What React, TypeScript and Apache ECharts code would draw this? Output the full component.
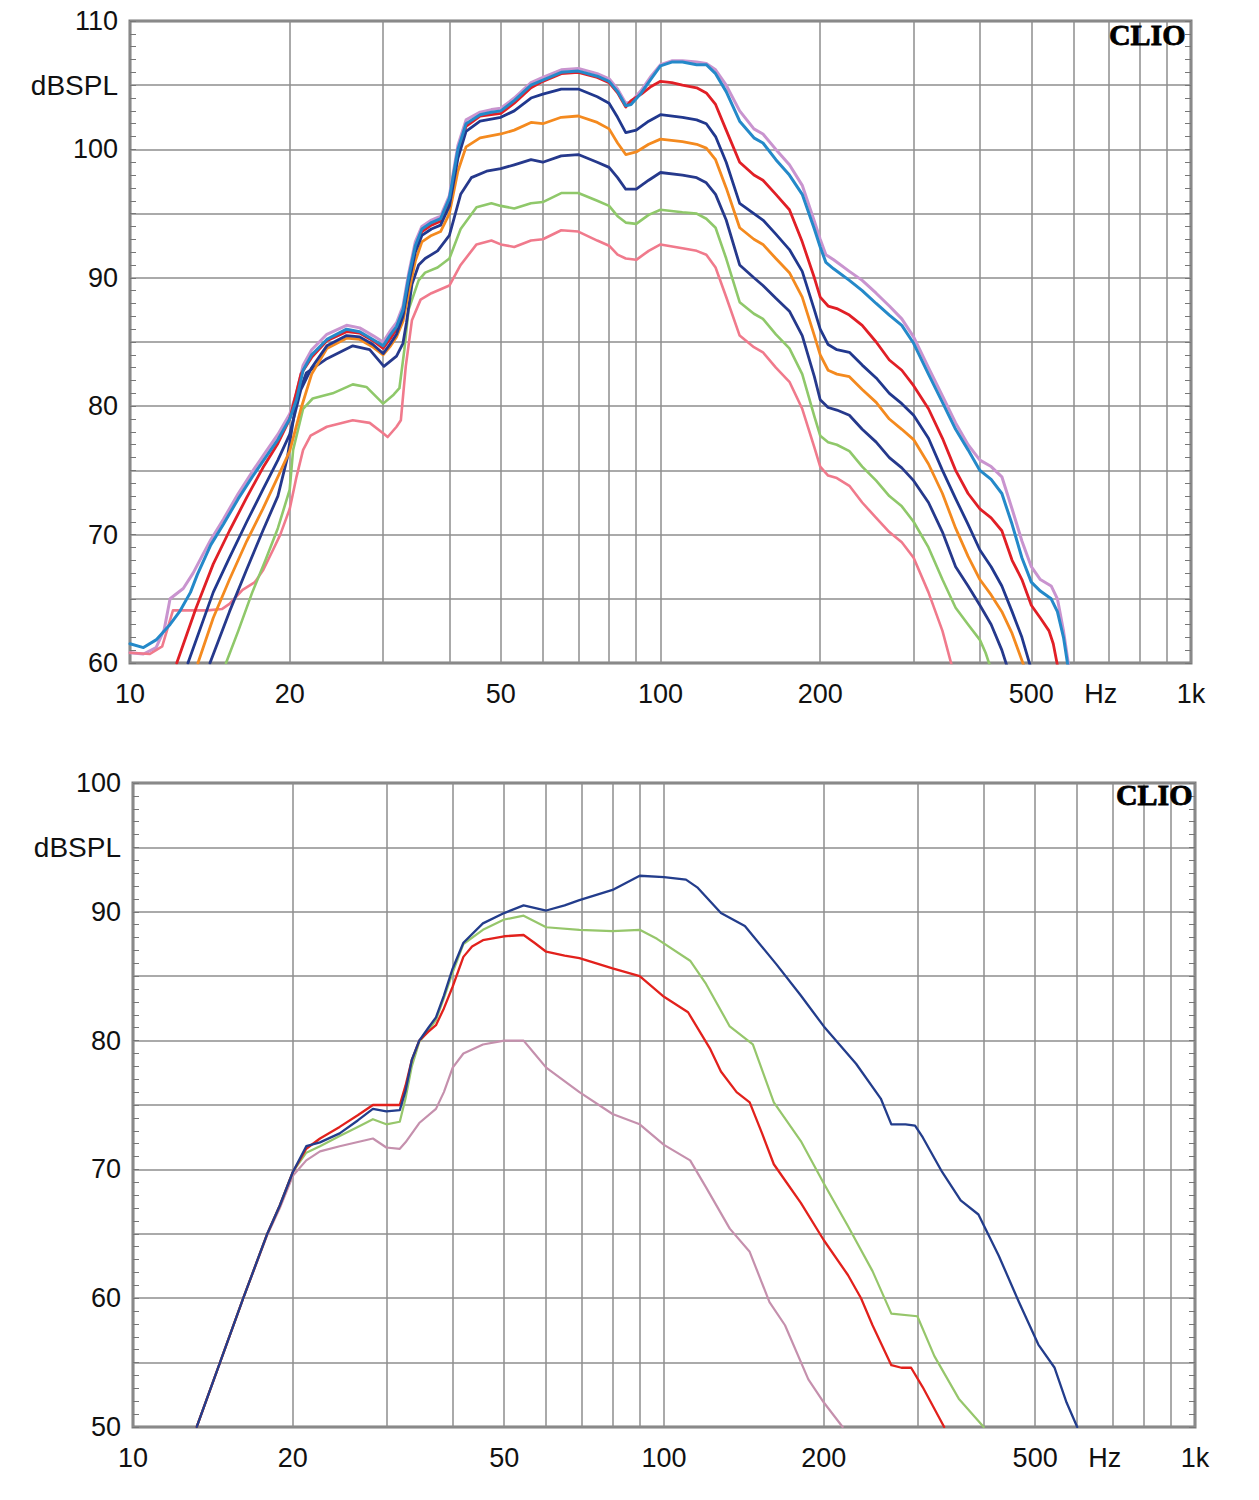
import React, { useEffect, useRef } from 'react';
import * as echarts from 'echarts';

// ---------- axis definitions ----------
const X_GRID_FREQS = [10, 20, 30, 40, 50, 60, 70, 80, 90, 100, 200, 300, 400, 500, 600, 700, 800, 900, 1000];
const X_LABEL_FREQS = [10, 20, 50, 100, 200, 500, 676, 1000];
const X_LABEL_TEXTS = ['10', '20', '50', '100', '200', '500', 'Hz', '1k'];

const TOP_Y_LABEL_VALUES = [60, 70, 80, 90, 100, 105, 110];
const TOP_Y_LABEL_TEXTS = ['60', '70', '80', '90', '100', 'dBSPL', '110'];
const BOT_Y_LABEL_VALUES = [50, 60, 70, 80, 90, 95, 100];
const BOT_Y_LABEL_TEXTS = ['50', '60', '70', '80', '90', 'dBSPL', '100'];

// ---------- top chart curves [Hz, dBSPL] ----------
const TOP_PURPLE = [[10,60.8],[10.6,60.7],[11.2,61.2],[11.6,62.6],[11.9,65],[12.6,65.8],[13.15,67],[13.7,68.4],[14.2,69.6],[15,71.2],[16,73.2],[17,74.9],[18,76.4],[19,77.8],[20,79.4],[20.6,81],[21.2,83.2],[22,84.4],[23.5,85.6],[25.6,86.3],[27.1,86.1],[28.7,85.5],[30,85],[31,85.9],[31.8,86.5],[32.7,87.8],[33.5,90.3],[34.5,92.8],[35.5,94],[37,94.5],[38.5,94.8],[40,96.4],[41.5,100.3],[43,102.3],[45.7,102.9],[48,103.1],[50,103.2],[53,104],[57,105.2],[60,105.6],[65,106.2],[70,106.3],[76,105.9],[80,105.5],[83,104.7],[86,103.6],[88,103.7],[92,104.6],[96,105.7],[100,106.6],[105,106.9],[110,106.9],[117,106.8],[122,106.7],[127,106.2],[133,105],[141,103],[150,101.6],[156,101.2],[165,100],[175,98.8],[185,97.2],[195,94.4],[200,93],[205,91.8],[212,91.4],[227,90.5],[240,89.8],[255,88.8],[270,87.8],[285,86.8],[300,85.4],[320,83],[340,80.8],[360,78.7],[380,77],[400,75.8],[420,75.3],[440,74.5],[460,72],[480,69.5],[500,67.5],[520,66.5],[545,66],[560,65],[575,62.5],[592,59]];
const TOP_CYAN = [[10,61.5],[10.6,61.2],[11.2,61.8],[11.9,63],[12.4,64],[13,65.5],[13.4,66.9],[14.2,69.2],[15,70.8],[16,72.8],[17,74.5],[18,76],[19,77.4],[20,79],[20.6,80.5],[21.2,82.8],[22,84],[23.5,85.2],[25.6,86],[27.1,85.8],[28.7,85.2],[30,84.7],[31,85.6],[31.8,86.2],[32.7,87.5],[33.5,90],[34.5,92.5],[35.5,93.8],[37,94.3],[38.5,94.6],[40,96.2],[41.5,100],[43,102],[45.7,102.7],[48,102.9],[50,103],[53,103.8],[57,105],[60,105.4],[65,106],[70,106.1],[76,105.7],[80,105.3],[83,104.5],[86,103.4],[88,103.5],[92,104.4],[96,105.5],[100,106.5],[105,106.8],[110,106.8],[117,106.6],[122,106.6],[127,105.9],[133,104.5],[141,102.2],[150,100.9],[156,100.5],[165,99.2],[175,98],[185,96.5],[195,93.8],[200,92.4],[205,91.2],[212,90.7],[227,89.8],[240,89],[255,88],[270,87.1],[285,86.3],[300,84.9],[320,82.5],[340,80.3],[360,78.2],[380,76.6],[400,75],[420,74.3],[440,73.2],[460,70.8],[480,68.2],[500,66.3],[520,65.6],[545,65],[560,64],[575,62],[590,59]];
const TOP_RED = [[12.25,60],[13.3,64.2],[14.35,67.7],[15.4,70.3],[16.6,72.9],[17.8,75.2],[19,77.1],[20,79],[21,82.5],[22,83.8],[23.5,85.1],[25.6,85.8],[27.1,85.7],[28.7,85.1],[30,84.5],[31,85.3],[31.8,86],[32.7,87.3],[33.5,89.8],[34.5,92.3],[35.5,93.6],[37,94.1],[38.5,94.4],[40,96],[41.5,99.7],[43,101.8],[45.7,102.6],[50,102.8],[53,103.6],[57,104.8],[60,105.3],[65,105.9],[70,106],[76,105.6],[80,105.2],[83,104.4],[86,103.3],[88,103.8],[92,104.3],[96,104.9],[100,105.3],[105,105.2],[110,105],[117,104.8],[122,104.4],[127,103.5],[133,101.5],[141,99],[150,98],[156,97.6],[165,96.5],[175,95.3],[185,92.8],[195,90],[200,88.5],[207,87.8],[215,87.6],[227,87.1],[240,86.3],[255,85],[270,83.6],[285,82.8],[300,81.6],[320,79.8],[340,77.5],[360,75],[380,73.2],[400,72],[420,71.3],[440,70.3],[460,68],[480,66.5],[500,64.5],[520,63.5],[540,62.5],[550,61.5],[562,59.5]];
const TOP_NAVY1 = [[12.86,60],[14.35,65.5],[15.4,68.2],[16.6,71],[17.8,73.5],[19,75.8],[20,77.8],[21,81.3],[22,83],[23.5,84.7],[25.6,85.5],[27.1,85.4],[28.7,84.8],[30,84.1],[31,84.9],[31.8,85.6],[32.7,87],[33.5,89.5],[34.5,92],[35.5,93.3],[37,93.8],[38.5,94.1],[40,95.6],[41.5,99.3],[43,101.4],[45.7,102.2],[50,102.5],[53,103],[57,104],[60,104.3],[65,104.7],[70,104.7],[76,104.1],[80,103.6],[83,102.5],[86,101.3],[90,101.5],[95,102.2],[100,102.7],[110,102.5],[117,102.3],[122,102],[127,101],[133,99],[141,95.8],[150,95],[156,94.5],[165,93.4],[175,92.2],[185,90.5],[195,87.5],[200,86],[207,84.8],[215,84.4],[227,84.2],[240,83.2],[255,82.2],[270,81],[285,80.2],[300,79.3],[320,77.5],[340,75],[360,72.8],[380,70.8],[400,68.8],[420,67.5],[440,66],[460,64],[480,62],[500,59.5]];
const TOP_ORANGE = [[13.43,60],[14.35,63.5],[15.4,66.5],[16.6,69.5],[17.8,72],[19,74.5],[20,76.5],[21,79.8],[22,82.5],[23.5,84.5],[25.6,85.3],[27.1,85.2],[28.7,84.6],[30,84],[31,84.7],[31.8,85.4],[32.7,86.6],[33.5,88.8],[34.5,91.3],[35.5,92.8],[37,93.3],[38.5,93.6],[40,95],[41.5,98.3],[43,100.2],[45.7,100.9],[50,101.2],[53,101.5],[57,102.1],[60,102],[65,102.5],[70,102.6],[76,102.1],[80,101.6],[83,100.5],[86,99.6],[90,99.8],[95,100.4],[100,100.8],[110,100.6],[117,100.4],[122,100.1],[127,99.2],[133,97],[141,93.9],[150,93],[156,92.6],[165,91.5],[175,90.4],[185,88.5],[195,85.5],[200,84],[207,82.8],[215,82.5],[227,82.3],[240,81.3],[255,80.3],[270,79],[285,78.2],[300,77.4],[320,75.5],[340,73.2],[360,70.5],[380,68.3],[400,66.5],[420,65.3],[440,64],[460,62.3],[484,59.8]];
const TOP_NAVY2 = [[14.15,60],[15.4,64],[16.6,67.3],[17.8,70.3],[19,73],[19.8,76],[20.6,80.5],[21.5,82.6],[23.5,83.7],[26.3,84.7],[28.3,84.4],[30.1,83.1],[31.8,83.9],[32.7,84.9],[33.2,86.5],[34,89.5],[35,91],[36,91.5],[38,92.1],[40,93.3],[42,96.5],[44,97.8],[47,98.3],[50,98.5],[53,98.8],[57,99.2],[60,99],[65,99.5],[70,99.6],[76,99],[80,98.6],[83,97.8],[86,96.9],[90,96.9],[95,97.6],[100,98.2],[110,98],[117,97.8],[122,97.4],[127,96.5],[133,94.5],[141,91],[150,90],[156,89.4],[165,88.4],[175,87.4],[185,85.5],[195,82.3],[200,80.5],[207,79.9],[215,79.7],[227,79.3],[240,78.2],[255,77.2],[270,76],[285,75.2],[300,74.2],[320,72.5],[340,70.2],[360,67.5],[380,66],[400,64.5],[420,63],[440,61],[452,59.5]];
const TOP_GREEN = [[15.17,60],[16,62.5],[17,65.5],[18,68],[19,70.5],[20,73.5],[20.3,76.6],[21.2,79.8],[22.1,80.6],[24.1,81],[26.3,81.7],[27.9,81.5],[30,80.2],[31.4,80.9],[32.2,81.4],[32.9,84.4],[33.5,87.5],[35,89.8],[36,90.4],[38,90.8],[40,91.5],[42,93.8],[45,95.5],[48,95.8],[50,95.6],[53,95.4],[57,95.8],[60,95.9],[65,96.6],[70,96.6],[76,96],[80,95.6],[83,94.8],[86,94.3],[90,94.2],[95,94.9],[100,95.3],[110,95.1],[117,95],[122,94.6],[127,93.9],[133,91.5],[141,88.1],[150,87.2],[156,86.8],[165,85.6],[175,84.5],[185,82.5],[195,79.2],[200,77.7],[207,77.2],[215,77],[227,76.5],[240,75.3],[255,74.2],[270,73],[285,72.2],[300,71],[320,69],[340,66.5],[360,64.3],[380,63],[400,61.8],[410,60.8],[420,59.5]];
const TOP_PINK = [[10,60.8],[10.9,60.7],[11.5,61.3],[12.05,64.1],[13,64.1],[14,64.1],[14.9,64.2],[15.4,64.6],[16.3,65.7],[17.2,66.3],[17.8,67.2],[18.6,68.8],[19.2,70],[20,72],[20.6,74.5],[21.2,76.6],[21.9,77.7],[23.5,78.4],[26.3,78.9],[28.3,78.7],[30,77.9],[30.6,77.6],[31.8,78.4],[32.4,78.9],[33.1,83.1],[34,86.7],[35.3,88.3],[37,88.8],[40,89.4],[42,91],[45,92.6],[48,92.9],[50,92.6],[53,92.4],[57,92.9],[60,93],[65,93.7],[70,93.6],[76,92.9],[80,92.5],[83,91.8],[86,91.5],[90,91.4],[95,92.1],[100,92.6],[110,92.3],[117,92.1],[122,91.8],[127,90.8],[133,88.5],[141,85.5],[150,84.6],[156,84.2],[165,83],[175,81.9],[185,79.8],[195,76.8],[200,75.3],[207,74.6],[215,74.4],[227,73.8],[240,72.5],[255,71.3],[270,70.2],[285,69.4],[300,68.2],[320,65.5],[340,62.5],[354,59.8]];

// ---------- bottom chart curves [Hz, dBSPL] ----------
const BOT_NAVY = [[13.18,50],[14.58,55],[16.13,60],[17.86,64.9],[18.9,67.2],[20,69.8],[21.2,71.8],[22.5,72.1],[24.5,72.8],[26.5,73.8],[28.3,74.7],[30,74.5],[31.8,74.6],[32.6,76.1],[33.5,78.5],[34.6,80],[36,81],[37.2,81.8],[38.5,83.5],[40,85.6],[41.9,87.6],[45.6,89.1],[50,89.9],[54.4,90.5],[57,90.3],[60,90.1],[65,90.5],[69.3,90.9],[80,91.7],[90,92.8],[100,92.7],[110,92.5],[115.5,91.9],[128,89.9],[142,88.9],[163,85.9],[181,83.5],[200,81.1],[230,78.2],[256,75.5],[268,73.5],[285,73.5],[297,73.4],[307,72.5],[334,69.8],[362,67.6],[391,66.5],[427,63.3],[466,59.7],[507,56.4],[544,54.6],[573,51.9],[600,50]];
const BOT_GREEN = [[13.18,50],[14.58,55],[16.13,60],[17.86,64.9],[18.9,67.2],[20,69.8],[21.2,71.3],[22.5,71.8],[24.5,72.6],[26.5,73.3],[28.3,73.9],[30,73.5],[31.8,73.7],[32.6,75.5],[33.5,78],[34.6,79.9],[36,80.8],[37.2,81.6],[38.5,83.3],[40,85.3],[41.9,87.5],[45.6,88.6],[50,89.4],[54.4,89.7],[60,88.8],[69.3,88.6],[80,88.5],[90,88.6],[97,87.9],[112,86.2],[120,84.4],[133,81.1],[147,79.7],[161,75.2],[181,72.2],[200,68.9],[222,65.6],[247,62.1],[268,58.8],[300,58.6],[323,55.5],[359,52.2],[400,50]];
const BOT_RED = [[13.18,50],[14.58,55],[16.13,60],[17.86,64.9],[18.9,67.2],[20,69.8],[21.2,71.6],[22.5,72.4],[24.5,73.3],[26.5,74.2],[28.3,75],[30,75],[31.8,75],[32.6,76.5],[33.5,78.5],[34.6,80],[36,80.7],[37.2,81.2],[38.5,82.5],[40,84.2],[41.9,86.5],[43.5,87.3],[45.6,87.8],[50,88.1],[54.4,88.2],[57,87.6],[60,86.9],[65,86.6],[69.3,86.4],[80,85.6],[90,85],[100,83.4],[111,82.2],[122,79.4],[128,77.6],[137,76],[145,75.2],[153,72.8],[161,70.4],[170,69],[181,67.4],[200,64.5],[222,61.8],[235,60],[247,57.9],[268,54.8],[280,54.6],[292,54.6],[307,53.1],[337,50]];
const BOT_MAUVE = [[13.18,50],[14.58,55],[16.13,60],[17.86,64.8],[18.9,67],[20,69.5],[21.2,70.7],[22.5,71.4],[24.5,71.8],[28.3,72.4],[30,71.7],[31.8,71.6],[32.6,72.1],[34.6,73.6],[37.2,74.7],[38.5,76],[40,77.9],[41.9,79],[45.6,79.7],[50,80],[54.4,80],[57,79],[60,77.9],[69.3,76],[80,74.3],[90,73.5],[100,71.9],[112,70.7],[120,68.6],[133,65.4],[145,63.6],[158,59.7],[169,57.9],[187,53.7],[200,51.9],[217,50]];

const FONT = '"Liberation Sans", Arial, sans-serif';
const GRID_COLOR = '#8e8e8e';
const BORDER_COLOR = '#7d7d7d';
const CLIO_FONT = 'bold 30px "Liberation Serif", "Times New Roman", serif';

const lg = (f: number) => Math.log10(f);

function xAxisFor(gridIndex: number) {
  return {
    type: 'value',
    gridIndex,
    min: 1,
    max: 3,
    axisLine: { show: false },
    axisTick: { show: false, customValues: X_GRID_FREQS.map(lg) },
    splitLine: { show: true, lineStyle: { color: GRID_COLOR, width: 1.5 } },
    axisLabel: {
      customValues: X_LABEL_FREQS.map(lg),
      fontFamily: FONT,
      fontSize: 27,
      color: '#111',
      margin: 17,
      formatter: (v: number) => {
        const i = X_LABEL_FREQS.findIndex((f) => Math.abs(lg(f) - v) < 1e-6);
        return i >= 0 ? X_LABEL_TEXTS[i] : '';
      },
    },
  };
}

function yAxesFor(gridIndex: number, min: number, max: number, values: number[], texts: string[]) {
  const base = {
    type: 'value',
    gridIndex,
    min,
    max,
    interval: 5,
    axisLine: { show: false },
    axisTick: { show: true, inside: true, length: 6, lineStyle: { color: '#777', width: 1 } },
    minorTick: { show: true, splitNumber: 5, length: 6, lineStyle: { color: '#777', width: 1 } },
  };
  return [
    {
      ...base,
      position: 'left',
      splitLine: { show: true, lineStyle: { color: GRID_COLOR, width: 1.5 } },
      minorSplitLine: { show: false },
      axisLabel: {
        fontFamily: FONT,
        fontSize: 27,
        color: '#111',
        margin: 12,
        rich: { u: { fontFamily: FONT, fontSize: 28, color: '#111' } },
        formatter: (v: number) => {
          const i = values.indexOf(v);
          if (i < 0) return '';
          const t = texts[i];
          return /^\d+$/.test(t) ? t : '{u|' + t + '}';
        },
      },
    },
    {
      ...base,
      position: 'right',
      splitLine: { show: false },
      axisLabel: { show: false },
    },
  ];
}

function lineSeries(data: number[][], color: string, width: number, xAxisIndex: number, yAxisIndex: number, z: number) {
  return {
    type: 'line',
    xAxisIndex,
    yAxisIndex,
    data: data.map(([f, d]) => [lg(f), d]),
    showSymbol: false,
    symbol: 'none',
    clip: true,
    z,
    lineStyle: { color, width, cap: 'round', join: 'round' },
    itemStyle: { color },
  };
}

export default function App() {
  const ref = useRef<HTMLDivElement>(null);
  useEffect(() => {
    document.body.style.margin = '0';
    const chart = echarts.init(ref.current as HTMLDivElement, null, { renderer: 'svg' });
    const option = {
      animation: false,
      backgroundColor: '#ffffff',
      grid: [
        { left: 130, top: 21, width: 1061, height: 642, show: true, borderColor: BORDER_COLOR, borderWidth: 3, backgroundColor: 'transparent' },
        { left: 133, top: 783, width: 1062, height: 644, show: true, borderColor: BORDER_COLOR, borderWidth: 3, backgroundColor: 'transparent' },
      ],
      xAxis: [xAxisFor(0), xAxisFor(1)],
      yAxis: [
        ...yAxesFor(0, 60, 110, TOP_Y_LABEL_VALUES, TOP_Y_LABEL_TEXTS),
        ...yAxesFor(1, 50, 100, BOT_Y_LABEL_VALUES, BOT_Y_LABEL_TEXTS),
      ],
      series: [
        lineSeries(TOP_PURPLE, '#c994cf', 3, 0, 0, 2),
        lineSeries(TOP_PINK, '#f07a8c', 2.6, 0, 0, 3),
        lineSeries(TOP_GREEN, '#8fc86a', 2.6, 0, 0, 4),
        lineSeries(TOP_NAVY2, '#26398c', 2.8, 0, 0, 5),
        lineSeries(TOP_ORANGE, '#f48a1f', 2.8, 0, 0, 6),
        lineSeries(TOP_RED, '#e11f26', 2.8, 0, 0, 7),
        lineSeries(TOP_NAVY1, '#21388e', 2.8, 0, 0, 8),
        lineSeries(TOP_CYAN, '#2489c9', 3, 0, 0, 9),
        lineSeries(BOT_MAUVE, '#c590ad', 2.2, 1, 2, 2),
        lineSeries(BOT_GREEN, '#96c66b', 2.2, 1, 2, 3),
        lineSeries(BOT_RED, '#e2211c', 2.3, 1, 2, 4),
        lineSeries(BOT_NAVY, '#233d8c', 2.3, 1, 2, 5),
      ],
      graphic: [
        {
          type: 'text',
          right: 1259 - 1186,
          top: 19,
          z: 100,
          style: { text: 'CLIO', font: CLIO_FONT, fill: '#000', stroke: '#000', lineWidth: 0.8 },
        },
        {
          type: 'text',
          right: 1259 - 1193,
          top: 779,
          z: 100,
          style: { text: 'CLIO', font: CLIO_FONT, fill: '#000', stroke: '#000', lineWidth: 0.8 },
        },
      ],
    };
    chart.setOption(option as any);
    return () => chart.dispose();
  }, []);
  return <div ref={ref} style={{ width: 1259, height: 1500 }} />;
}
